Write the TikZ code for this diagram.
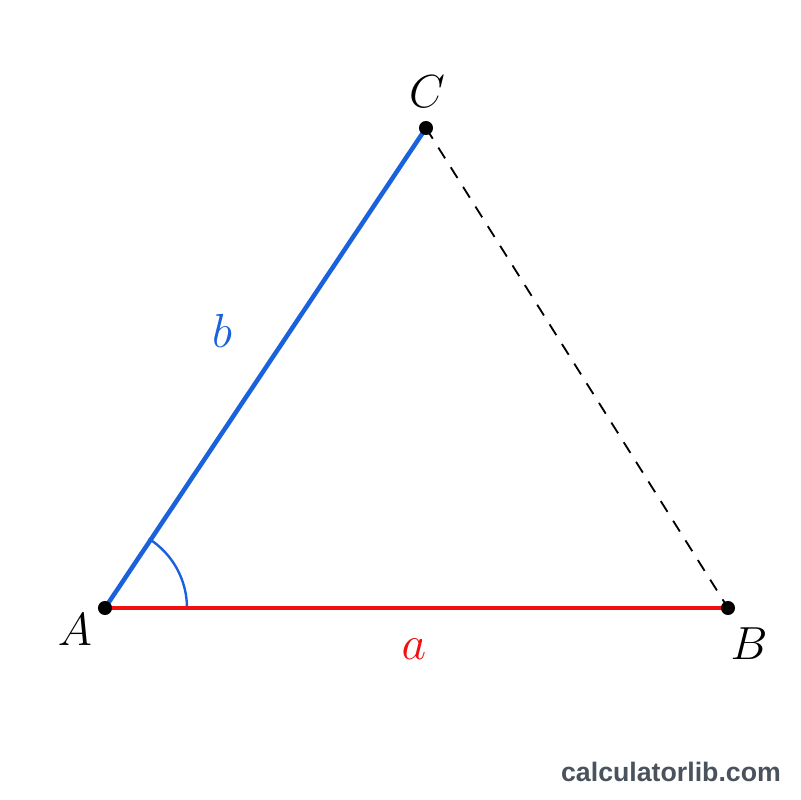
\RequirePackage{fix-cm}
\documentclass[tikz,border=0pt]{standalone}
\usepackage{fontspec}
\newfontfamily\wmfont{Liberation Sans}
\definecolor{sideb}{HTML}{1A62DB}
\definecolor{sidea}{HTML}{F20F0F}
\definecolor{wm}{HTML}{4A525E}
\begin{document}
\begin{tikzpicture}[x=0.025cm,y=-0.025cm,
  pt/.style={circle,fill=black,inner sep=0pt,minimum size=10pt},
  lbl/.style={font=\fontsize{33}{40}\selectfont},
  sidelbl/.style={font=\fontsize{34}{40}\selectfont}]
\useasboundingbox[fill=white] (0,0) rectangle (800,800);
\coordinate (A) at (105,608);
\coordinate (B) at (728,608);
\coordinate (C) at (426,128);
\draw[black,line width=1.3pt,dash pattern=on 9pt off 7.5pt] (C) -- (B);
\draw[sideb,line width=1.7pt] ([shift={(0:82)}]A) arc[start angle=0,end angle=-57.8,radius=82];
\draw[sideb,line width=3.2pt] (A) -- (C);
\draw[sidea,line width=3.2pt] (A) -- (B);
\node[pt] (pA) at (A) {};
\node[pt] (pB) at (B) {};
\node[pt] (pC) at (C) {};
\node[lbl] (lA) at (75,630) {$A$};
\node[lbl] (lB) at (749,644) {$B$};
\node[lbl] (lC) at (427,92) {$C$};
\node[sidelbl,text=sidea] (la) at (414,649) {$a$};
\node[sidelbl,text=sideb] (lb) at (222,331) {$b$};
\node[font=\wmfont\bfseries\fontsize{19}{22}\selectfont,text=wm] (wm) at (671,772) {calculatorlib.com};
\end{tikzpicture}
\end{document}
